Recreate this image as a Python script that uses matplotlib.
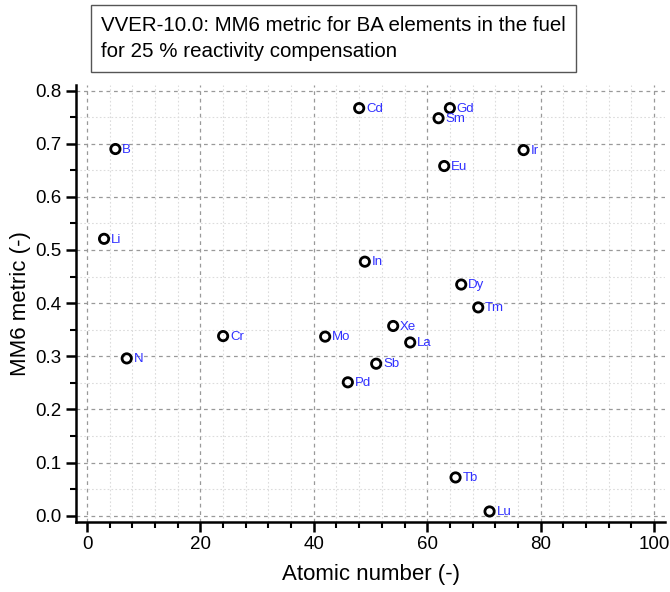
import numpy as np
import matplotlib.pyplot as plt
from matplotlib.ticker import MultipleLocator

plt.rcParams['font.family'] = ['Liberation Sans', 'DejaVu Sans']

# Data: element symbols, atomic numbers and MM6 metric values
elements = ['Li', 'B', 'N', 'Cr', 'Mo', 'Pd', 'Cd', 'In', 'Sb', 'Xe',
            'La', 'Sm', 'Eu', 'Gd', 'Tb', 'Dy', 'Tm', 'Lu', 'Ir']
atomic_number = [3, 5, 7, 24, 42, 46, 48, 49, 51, 54,
                 57, 62, 63, 64, 65, 66, 69, 71, 77]
mm6 = [0.521, 0.690, 0.296, 0.338, 0.337, 0.251, 0.767, 0.478, 0.286, 0.357,
       0.326, 0.748, 0.658, 0.767, 0.072, 0.435, 0.392, 0.008, 0.688]

fig = plt.figure(figsize=(6.7, 5.92), dpi=100)
ax = fig.add_axes([0.113, 0.119, 0.88, 0.737])

ax.scatter(atomic_number, mm6, s=45, facecolors='none', edgecolors='black',
           linewidths=2, zorder=3)

for name, x, y in zip(elements, atomic_number, mm6):
    ax.annotate(name, (x, y), xytext=(5, -0.5), textcoords='offset points',
                ha='left', va='center', color='#3030ff', fontsize=9.5)

ax.set_xlim(-2, 102)
ax.set_ylim(-0.011, 0.81)

ax.xaxis.set_major_locator(MultipleLocator(20))
ax.xaxis.set_minor_locator(MultipleLocator(4))
ax.xaxis.set_major_formatter(plt.FormatStrFormatter('%d'))
ax.yaxis.set_major_locator(MultipleLocator(0.1))
ax.yaxis.set_minor_locator(MultipleLocator(0.05))
ax.yaxis.set_major_formatter(plt.FormatStrFormatter('%.1f'))

# Grid
ax.grid(which='major', color='#999999', linestyle=(0, (3, 3)), linewidth=0.9)
ax.grid(which='minor', color='#dcdcdc', linestyle=(0, (1.5, 2)), linewidth=0.8)
ax.set_axisbelow(True)

# Spines and ticks
for spine in ['top', 'right']:
    ax.spines[spine].set_visible(False)
for spine in ['left', 'bottom']:
    ax.spines[spine].set_linewidth(1.8)
ax.tick_params(which='major', direction='out', length=7, width=1.8, labelsize=13.5)
ax.tick_params(which='minor', direction='out', length=4, width=1.5)

ax.set_xlabel('Atomic number (-)', fontsize=16, labelpad=8)
ax.set_ylabel('MM6 metric (-)', fontsize=16, labelpad=3)

fig.text(0.151, 0.935,
         'VVER-10.0: MM6 metric for BA elements in the fuel\nfor 25 % reactivity compensation',
         ha='left', va='center', fontsize=14.8, linespacing=1.5,
         bbox=dict(boxstyle='square,pad=0.5', facecolor='white',
                   edgecolor='#555555', linewidth=1))

fig.savefig('out.png', dpi=100)
